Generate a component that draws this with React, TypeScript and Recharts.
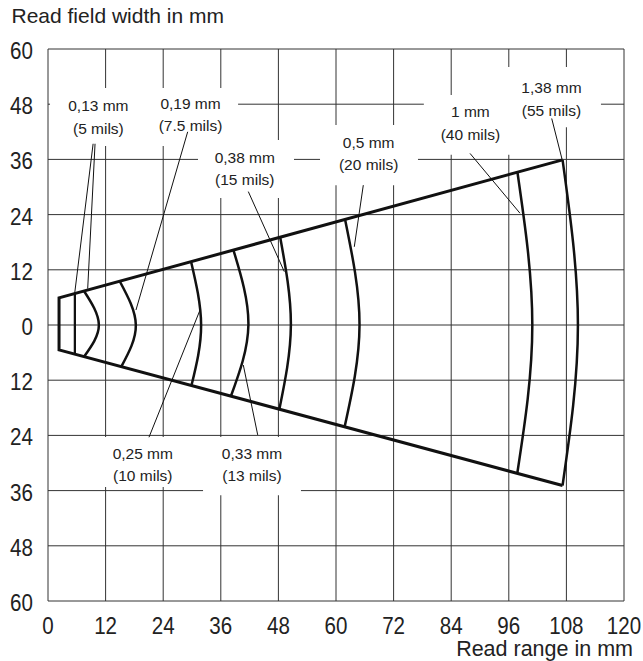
import {
  LineChart, Line, XAxis, YAxis, CartesianGrid,
  ReferenceArea, ReferenceLine, ReferenceDot,
} from 'recharts'

// axis ticks
const xTicks = [0, 12, 24, 36, 48, 60, 72, 84, 96, 108, 120]
const yTicks = [-60, -48, -36, -24, -12, 0, 12, 24, 36, 48, 60]

// outline of the read field (apex top -> left edge -> apex bottom)
const coneX = [107.2, 2.3, 2.3, 107.2]
const coneY = [35.9, 5.9, -5.4, -34.9]

// near limit of the 0,13 mm field
const nearX = [5.6, 5.6]
const nearY = [6.9, -6.4]

// far limit arcs, one per resolution
const arcNames = ['0,13 mm', '0,19 mm', '0,25 mm', '0,33 mm', '0,38 mm', '0,5 mm', '1 mm', '1,38 mm']
const arcMils = ['(5 mils)', '(7.5 mils)', '(10 mils)', '(13 mils)', '(15 mils)', '(20 mils)', '(40 mils)', '(55 mils)']
const arcTopX = [7.5, 15.0, 29.8, 38.6, 48.4, 61.9, 97.8, 107.2]
const arcTopY = [7.4, 9.4, 13.8, 16.4, 18.9, 22.9, 33.2, 35.9]
const arcMidX = [10.6, 18.3, 31.9, 41.75, 50.6, 64.9, 100.9, 110.4]
const arcMidY = [0, 0, 0, 0, 0, 0, 0, 0]
const arcBotX = [7.5, 15.3, 29.9, 38.1, 48.2, 61.8, 97.8, 107.2]
const arcBotY = [-6.9, -9.0, -13.1, -15.5, -18.3, -22.1, -32.0, -34.9]

// where each label's first line sits
const labelX = [10.5, 29.7, 19.75, 42.5, 41.0, 66.8, 88.0, 104.9]
const labelY = [46.5, 47.0, -29.1, -29.1, 35.3, 38.5, 45.2, 50.4]

// leader lines from labels to arcs
const leaders = [
  [9.4, 39.4, 5.56, 6.9],
  [9.8, 39.4, 8.27, 7.9],
  [29.1, 42.0, 18.33, 3.26],
  [21.04, -24.4, 31.67, 3.26],
  [43.69, -23.9, 40.69, -8.7],
  [41.73, 29.0, 49.23, 11.6],
  [65.69, 30.4, 63.81, 17.0],
  [87.92, 37.3, 98.33, 24.3],
  [104.94, 44.9, 107.1, 36.0],
]

// white backgrounds behind the label blocks
const boxes = [
  [0.42, 39.6, 38.9, 51.5],
  [31.25, 51.25, 27.6, 40.2],
  [56.67, 77.08, 30.4, 43.5],
  [78.3, 96.7, 37.0, 50.0],
  [95.2, 115.2, 43.0, 56.1],
  [8.75, 32.3, -35.2, -24.35],
  [32.3, 52.7, -37.0, -24.35],
]

const sans = "'Liberation Sans', Arial, sans-serif"

const cone = coneX.map((x, i) => ({ x, y: coneY[i] }))
const near = nearX.map((x, i) => ({ x, y: nearY[i] }))
const arcs = arcNames.map((_, i) => [
  { x: arcTopX[i], y: arcTopY[i] },
  { x: arcMidX[i], y: arcMidY[i] },
  { x: arcBotX[i], y: arcBotY[i] },
])

// condensed tick numbers, like the printed diagram
function NarrowTick({ x, y, payload, anchor, dy }: any) {
  return (
    <text transform={`translate(${x},${y}) scale(0.84,1)`} textAnchor={anchor} dy={dy}
      fontSize={24.5} fontFamily={sans} fill="#222">
      {String(Math.abs(payload.value))}
    </text>
  )
}

function Note({ cx, cy, lines }: { cx: number; cy: number; lines: string[] }) {
  return (
    <g>
      {lines.map((t, i) => (
        <text key={i} x={cx} y={cy + i * 22.5} textAnchor="middle"
          fontSize={15.5} fontFamily={sans} fill="#222">{t}</text>
      ))}
    </g>
  )
}

export default function App() {
  return (
    <div style={{ position: 'absolute', left: 0, top: 0, width: 643, height: 661, background: '#fff' }}>
      <LineChart width={643} height={661} margin={{ top: 49, right: 19, bottom: 20, left: 0 }}>
        <CartesianGrid stroke="#333" strokeWidth={1} />
        <XAxis
          type="number" dataKey="x" domain={[0, 120]} ticks={xTicks} interval={0}
          axisLine={false} tickLine={false} tickSize={5} tickMargin={10} height={40}
          tick={(p: any) => <NarrowTick {...p} anchor="middle" dy={17.5} />}
        />
        <YAxis
          type="number" dataKey="y" domain={[-60, 60]} ticks={yTicks} interval={0}
          axisLine={false} tickLine={false} tickSize={8} tickMargin={7} width={48}
          tick={(p: any) => <NarrowTick {...p} anchor="end" dy={10} />}
        />
        {boxes.map((b, i) => (
          <ReferenceArea key={'b' + i} x1={b[0]} x2={b[1]} y1={b[2]} y2={b[3]}
            fill="#fff" fillOpacity={1} stroke="none" ifOverflow="visible" />
        ))}
        <Line data={cone} dataKey="y" type="linear" stroke="#111" strokeWidth={3}
          dot={false} activeDot={false} isAnimationActive={false} />
        <Line data={near} dataKey="y" type="linear" stroke="#111" strokeWidth={2.3}
          dot={false} activeDot={false} isAnimationActive={false} />
        {arcs.map((a, i) => (
          <Line key={'a' + i} data={a} dataKey="y" type="natural" stroke="#111" strokeWidth={2.5}
            dot={false} activeDot={false} isAnimationActive={false} />
        ))}
        {leaders.map((l, i) => (
          <ReferenceLine key={'l' + i} segment={[{ x: l[0], y: l[1] }, { x: l[2], y: l[3] }]}
            stroke="#111" strokeWidth={1} ifOverflow="visible" />
        ))}
        {arcNames.map((n, i) => (
          <ReferenceDot key={'n' + i} x={labelX[i]} y={labelY[i]} r={0} ifOverflow="visible"
            shape={(p: any) => <Note cx={p.cx} cy={p.cy} lines={[n, arcMils[i]]} />} />
        ))}
      </LineChart>
      <svg width={643} height={661} style={{ position: 'absolute', left: 0, top: 0, pointerEvents: 'none' }}>
        <text x={11.5} y={23} fontSize={21} fontFamily={sans} fill="#222">Read field width in mm</text>
        <text x={633} y={655.5} textAnchor="end" fontSize={21.5} fontFamily={sans} fill="#222">Read range in mm</text>
      </svg>
    </div>
  )
}
